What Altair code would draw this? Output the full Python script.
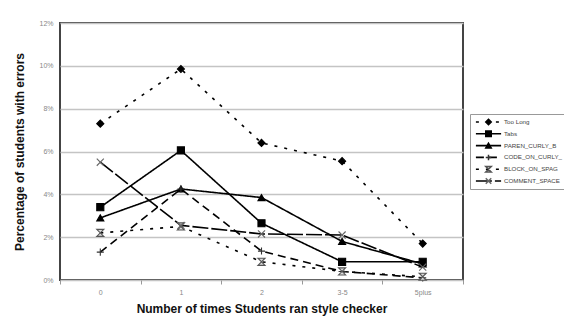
import altair as alt
import pandas as pd

categories = ["0", "1", "2", "3-5", "5plus"]
series_names = ["Too Long", "Tabs", "PAREN_CURLY_B", "CODE_ON_CURLY_", "BLOCK_ON_SPAG", "COMMENT_SPACE"]
marker_keys = ["m0", "m1", "m2", "m3", "m4", "m5"]

too_long = [7.3, 9.85, 6.4, 5.55, 1.7]
tabs = [3.4, 6.05, 2.65, 0.85, 0.85]
paren_curly = [2.9, 4.25, 3.85, 1.8, 0.75]
code_on_curly = [1.3, 4.25, 1.35, 0.4, 0.1]
block_on = [2.2, 2.5, 0.85, 0.4, 0.15]
comment_space = [5.5, 2.55, 2.15, 2.1, 0.6]

y_ticks = [0, 2, 4, 6, 8, 10, 12]

all_series = [too_long, tabs, paren_curly, code_on_curly, block_on, comment_space]
rows = []
for name, key, vals in zip(series_names, marker_keys, all_series):
    for c, v in zip(categories, vals):
        rows.append({"times": c, "pct": v, "series": name, "marker": key})
df = pd.DataFrame(rows)

dashes = [[3, 7], [1, 0], [1, 0], [8, 5], [3, 7], [16, 3]]
shapes = ["diamond", "square", "triangle-up", "M-1,0H1M0,-1V1",
          "M-1,-1H1L-1,1H1Z", "M-1,-1L1,1M1,-1L-1,1"]
fills = ["black", "black", "black", "transparent", "#dddddd", "transparent"]
strokes = ["black", "black", "black", "#333333", "#555555", "#666666"]

x_enc = alt.X(
    "times:N", sort=categories, bandPosition=0.5,
    scale=alt.Scale(type="band", domain=categories, paddingInner=0, paddingOuter=0),
    axis=alt.Axis(title="Number of times Students ran style checker", labelAngle=0,
                  tickBand="extent", tickSize=4, tickColor="#999999", labelPadding=4,
                  labelFontSize=7, labelColor="#888888", domain=False, grid=False,
                  titleFontSize=12, titleFontWeight="bold", titleColor="#111111",
                  titlePadding=8),
)
y_enc = alt.Y(
    "pct:Q", scale=alt.Scale(domain=[0, 12], nice=False, zero=True),
    axis=alt.Axis(title="Percentage of students with errors", values=y_ticks,
                  labelExpr="datum.value + '%'", ticks=False, tickSize=0, domain=False,
                  labelPadding=7, labelFontSize=7, labelColor="#888888",
                  grid=True, gridColor="#c4c4c4", gridWidth=1.6,
                  titleFontSize=12, titleFontWeight="bold", titleColor="#111111",
                  titlePadding=12),
)

LEG_X = 410
LEG_Y = 91

lines = alt.Chart(df).mark_line(color="black", strokeWidth=1.6).encode(
    x=x_enc,
    y=y_enc,
    strokeDash=alt.StrokeDash(
        "series:N", sort=series_names,
        scale=alt.Scale(domain=series_names, range=dashes),
        legend=alt.Legend(title=None, orient="none", legendX=LEG_X, legendY=LEG_Y,
                          symbolType="M-3.6,0H3.6", symbolSize=49, symbolStrokeWidth=1.6,
                          symbolStrokeColor="black", symbolFillColor="transparent",
                          symbolOffset=11, labelOffset=11,
                          labelFontSize=6.2, labelColor="#444444",
                          labelLimit=200, rowPadding=1.8, clipHeight=10, padding=3,
                          fillColor="white", strokeColor="#999999"),
    ),
)

points = alt.Chart(df).mark_point(size=50, opacity=1, strokeWidth=1.1, filled=False).encode(
    x=x_enc,
    y=y_enc,
    shape=alt.Shape(
        "marker:N", sort=marker_keys,
        scale=alt.Scale(domain=marker_keys, range=shapes),
        legend=alt.Legend(title=None, orient="none", legendX=LEG_X, legendY=LEG_Y,
                          symbolSize=30, symbolOffset=12, labelExpr="''",
                          labelFontSize=6.2,
                          rowPadding=1.8, clipHeight=10, padding=3),
    ),
    fill=alt.Fill("marker:N", sort=marker_keys,
                  scale=alt.Scale(domain=marker_keys, range=fills)),
    stroke=alt.Stroke("marker:N", sort=marker_keys,
                      scale=alt.Scale(domain=marker_keys, range=strokes)),
)

chart = alt.layer(lines, points).properties(
    width=403,
    height=257,
    autosize=alt.AutoSizeParams(type="none"),
    padding={"left": 52, "top": 15, "right": 101, "bottom": 36},
    background="white",
).configure(font="Liberation Sans").configure_view(stroke="#444444", strokeWidth=2)

chart.save("out.html", embed_options={"renderer": "svg", "actions": False})
